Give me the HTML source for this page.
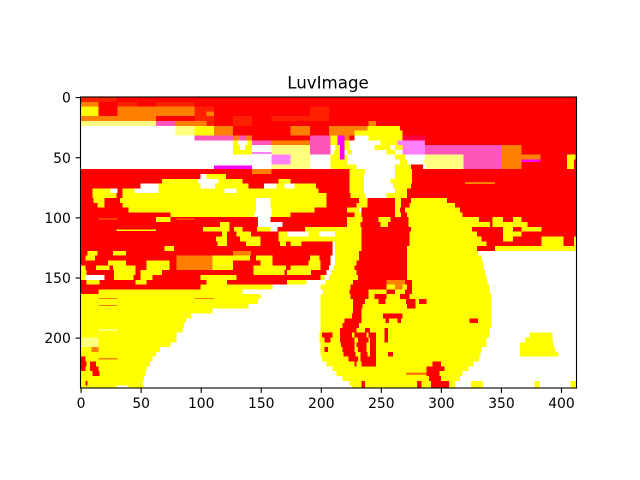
<!DOCTYPE html>
<html>
<head>
<meta charset="utf-8">
<style>
html,body{margin:0;padding:0;background:#fff}
svg{display:block}
text{font-family:"DejaVu Sans",sans-serif;fill:#000}
</style>
</head>
<body>
<svg id="chart" width="640" height="480" viewBox="0 0 640 480" xmlns="http://www.w3.org/2000/svg">
<rect width="640" height="480" fill="#fff"/>
<text x="328" y="88.5" font-size="16.67" text-anchor="middle">LuvImage</text>
<g id="image"></g>
<g id="ticks"></g>
<rect x="80.5" y="97" width="496" height="291" fill="none" stroke="#000" stroke-width="1.1"/>
</svg>
<script>
const xTicks = [0, 50, 100, 150, 200, 250, 300, 350, 400];
const yTicks = [0, 50, 100, 150, 200];
const imageWidth = 413;
const imageHeight = 242;
const rowStep = 4;
const palette = {r:'#ff0000',d:'#ff2000',o:'#ff8000',y:'#ffff00',l:'#ffff80',p:'#ff55bb',m:'#ff00ff',f:'#ff80ff',c:'#ff0040',w:'#ffffff'};
const imageRuns = [
"d30 r413",
"o15 r31 d47 r63 d95 r413",
"y15 r31 o95 d111 r191 d207 r413",
"y15 r31 o95 d105 o111 r191 d207 r413",
"o63 r95 d111 r127 d143 r159 d207 r413",
"l63 p79 o105 d111 r127 d143 r240 o246 r413",
"w79 l95 y111 o127 r175 o191 r207 o239 y266 r413",
"w79 l95 y111 o127 r175 o191 r207 o228 y268 r413",
"w95 p127 o133 p138 o143 r191 p208 y214 m220 o224 r228 w240 y268 c287 r413",
"w127 y131 w139 y143 p159 o191 p208 y214 m220 y224 w250 y264 f287 r413",
"w127 y133 w137 y143 w159 l191 p208 w212 y216 m220 y224 w245 y258 w262 y268 f287 p351 o367 r413",
"w127 y143 w159 l191 p208 w211 y216 m220 w222 y226 w255 y262 w268 f287 p351 o367 r413",
"w159 f175 l191 w208 y216 m220 y222 w262 y270 w287 l319 p351 o383 r405 y412 r413",
"w159 f175 l191 w208 y222 w266 y272 w286 l319 p351 o367 r405 y411 r413",
"w143 w159 l191 w208 y230 w262 y275 r285 w288 l319 p351 o367 r405 y411 r413",
"r143 o159 r224 y237 w262 y276 r413",
"r100 w105 y121 r224 y236 w262 y276 r413",
"r68 y98 w115 y135 r165 y175 r224 y236 w258 y276 r413",
"r50 w65 y100 w112 y140 r153 w163 y170 w178 y196 r224 y236 w260 y275 r413",
"r10 y25 w31 r35 y45 w65 y120 w130 y198 r224 y236 w262 y272 r413",
"r10 y30 r35 y205 r225 y237 w255 y272 r413",
"r11 y20 r33 y146 w158 y205 r232 y239 r262 y267 r275 y305 r413",
"r14 y20 r35 y146 w158 y205 r230 y239 r262 y267 r274 y312 r413",
"r40 y146 w159 y195 r222 y232 w234 r262 y266 r270 y316 r413",
"r75 y145 w159 y175 r228 y234 r262 y267 r272 y318 r413",
"r63 y75 r148 w158 r222 y235 r248 y258 r273 y332 r343 y352 r360 y367 r413",
"r116 y124 r148 w168 r222 y233 r250 y256 r273 y341 r343 y372 r413",
"r102 y124 r128 y135 r147 y158 w164 r187 y234 r275 y326 r352 y360 r367 y384 r413",
"r118 y122 r130 y142 r165 y172 w190 y199 w212 y234 r274 y330 r352 y367 r384 r413",
"r113 y122 r133 y150 r165 y212 y234 r274 y334 r352 y360 r384 y402 r411 y413",
"r114 y122 r138 y150 r166 y171 r175 y184 r210 w212 y234 r274 y338 r384 y402 r411 y413",
"r70 y78 r210 w212 y234 r272 y330 r345 y413",
"r6 y14 r27 y38 r127 o142 r210 w212 y232 r272 y331 w413",
"r4 y12 r80 o110 y141 r146 y160 r191 y199 r208 w212 y232 r272 y334 w413",
"r23 y38 r55 y74 r80 o110 y127 r150 y160 r190 y200 r208 w212 y230 r272 y335 w413",
"y4 r13 y24 r27 y46 r55 y74 r80 o110 y127 r144 y171 r175 y200 r207 w211 y228 r272 y336 w413",
"y5 r28 y46 r50 y68 r144 y170 r172 y192 r205 w209 y230 r272 y337 w413",
"y4 w20 r28 y44 r50 y60 r100 y130 r200 y203 w207 y231 r272 y338 w413",
"r5 y16 r46 y55 r105 y122 r172 y188 w204 y227 r255 o270 r276 y339 w413",
"r100 y160 w200 y225 r255 y262 o268 y272 r276 y340 w413",
"r15 y135 w202 y224 r240 y255 r262 y270 r276 y341 w413",
"y150 w200 y225 r240 y245 r255 y266 r274 y342 w413",
"y148 w200 y227 r237 y248 r254 y271 r279 y282 r288 y342 w413",
"y140 w200 y227 r235 y272 r279 y342 w413",
"y110 w200 y227 r234 y342 w413",
"y92 w200 y226 r234 y252 r268 y342 w413",
"y88 w200 y220 r234 y254 r257 y264 r267 y324 r331 y342 w413",
"y86 w200 y218 r232 y342 w413",
"y85 w200 y216 r230 y237 r241 y253 r256 y340 w413",
"y80 w199 y201 r210 y216 r226 y228 r238 y240 r246 y253 r256 y340 w374 y393 w413",
"l15 y80 w199 y203 r208 y216 r228 y231 r240 y241 r246 y253 r256 y338 w370 y393 w413",
"l15 y75 w200 y217 r228 y230 r238 y241 r246 y338 w366 y394 w413",
"y9 o15 y66 w200 y203 r206 y218 r228 y231 r238 y241 r246 y334 w366 y395 w413",
"y63 w200 y219 r229 y233 r239 y241 r246 y256 r260 y333 w366 y398 w413",
"r4 y60 w201 y223 r231 y233 r246 y332 w413",
"r5 y8 r13 y58 w205 y228 r230 y234 r246 y293 r300 y327 w413",
"r4 y8 r15 y55 w210 y288 r303 y323 w413",
"y10 r16 y54 w213 y288 r299 y318 w413",
"y53 w218 y290 r300 y316 w413",
"y4 r6 y52 w224 y234 r237 y280 r284 y292 r307 y312 w325 y335 w378 y382 w408 y413",
"y30 w40 y53 w226 y234 r237 y280 r284 y292 r307 y312 w325 y335 w378 y382 w408 y413"
];
const thinStrips = [
"o 15 31 101 1",
"o 80 95 101 1",
"y 30 63 110 1.5",
"o 15 31 167 1",
"o 15 31 173 1",
"o 95 111 167 1",
"l 15 31 193 1.5",
"o 15 31 217 1.5",
"o 271 288 229 2",
"m 111 143 57 3",
"m 143 159 46 1",
"m 367 383 52 2",
"y 320 345 71 1"
];

const NS = 'http://www.w3.org/2000/svg';
const axLeft = 80.5, axTop = 97, axWidth = 496, axHeight = 291;
function xScale(v){ return axLeft + (v + 0.5) * axWidth / imageWidth; }
function yScale(v){ return axTop + (v + 0.5) * axHeight / imageHeight; }

const imageGroup = document.getElementById('image');
function drawCell(key, c0, c1, r0, r1){
  const r = document.createElementNS(NS, 'rect');
  
  
  r.setAttribute('x', xScale(c0 - 0.5));
  r.setAttribute('y', yScale(r0 - 0.5));
  r.setAttribute('width', xScale(c1 - 0.5) - xScale(c0 - 0.5));
  r.setAttribute('height', yScale(r1 - 0.5) - yScale(r0 - 0.5));
  r.setAttribute('fill', palette[key]);
  r.setAttribute('shape-rendering', 'crispEdges');
  imageGroup.appendChild(r);
}
imageRuns.forEach(function(row, rowIndex){
  const rowStart = rowIndex * rowStep;
  const rowEnd = Math.min(rowStart + rowStep, imageHeight);
  let start = 0;
  row.split(' ').forEach(function(token){
    const end = Number(token.slice(1));
    if (end <= start) return;
    drawCell(token[0], start, end, rowStart, rowEnd);
    start = end;
  });
});
thinStrips.forEach(function(s){
  const p = s.split(' ');
  drawCell(p[0], Number(p[1]), Number(p[2]), Number(p[3]), Number(p[3]) + Number(p[4]));
});

const tickGroup = document.getElementById('ticks');
xTicks.forEach(function(t){
  const l = document.createElementNS(NS, 'line');
  
  
  l.setAttribute('x1', xScale(t)); l.setAttribute('x2', xScale(t));
  l.setAttribute('y1', axTop + axHeight); l.setAttribute('y2', axTop + axHeight + 4.9);
  l.setAttribute('stroke', '#000'); l.setAttribute('stroke-width', '1.1');
  tickGroup.appendChild(l);
  const s = document.createElementNS(NS, 'text');
  
  
  s.setAttribute('x', xScale(t)); s.setAttribute('y', axTop + axHeight + 20);
  s.setAttribute('font-size', '13.89'); s.setAttribute('text-anchor', 'middle');
  s.textContent = t;
  tickGroup.appendChild(s);
});
yTicks.forEach(function(t){
  const l = document.createElementNS(NS, 'line');
  
  
  l.setAttribute('x1', axLeft - 4.9); l.setAttribute('x2', axLeft);
  l.setAttribute('y1', yScale(t)); l.setAttribute('y2', yScale(t));
  l.setAttribute('stroke', '#000'); l.setAttribute('stroke-width', '1.1');
  tickGroup.appendChild(l);
  const s = document.createElementNS(NS, 'text');
  
  
  s.setAttribute('x', axLeft - 9.7); s.setAttribute('y', yScale(t) + 5.1);
  s.setAttribute('font-size', '13.89'); s.setAttribute('text-anchor', 'end');
  s.textContent = t;
  tickGroup.appendChild(s);
});
</script>
</body>
</html>
